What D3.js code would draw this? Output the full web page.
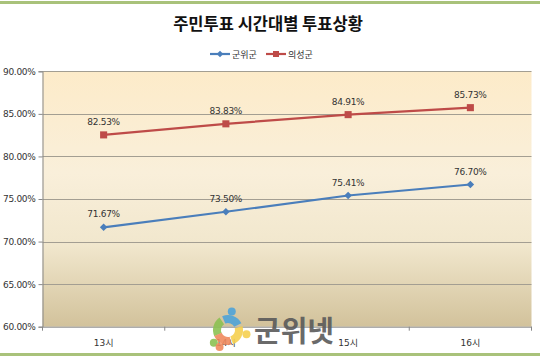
<!DOCTYPE html>
<html><head><meta charset="utf-8">
<script src="https://cdn.jsdelivr.net/npm/d3@7"></script>
<style>body{margin:0;background:#fff}svg{display:block}</style>
</head><body>
<script>
const categories = ["13시","14시","15시","16시"];
const seriesNames = ["군위군","의성군"];
const gunwi = [71.67, 73.50, 75.41, 76.70];
const uiseong = [82.53, 83.83, 84.91, 85.73];
const yTicks = [60,65,70,75,80,85,90];

const W=540,H=360;
const svg=d3.select("body").append("svg").attr("width",W).attr("height",H);
const m={l:42.5,r:531.5,t:71.3,b:326.7};
const defs=svg.append("defs");
const g=defs.append("linearGradient").attr("id","bg").attr("x1",0).attr("y1",0).attr("x2",0).attr("y2",1);
[[0,"#fdebc9"],[0.4,"#f9efda"],[0.68,"#f1e7cd"],[1,"#d2c29b"]].forEach(s=>g.append("stop").attr("offset",s[0]).attr("stop-color",s[1]));

// page lines
svg.append("rect").attr("x",0).attr("y",1).attr("width",W).attr("height",3).attr("fill","#a9c27a");
svg.append("rect").attr("x",0).attr("y",353).attr("width",W).attr("height",3).attr("fill","#a9c27a");

const x=d3.scaleBand().domain(categories).range([m.l,m.r]);
const y=d3.scaleLinear().domain([60,90]).range([m.b,m.t]);

svg.append("rect").attr("x",m.l).attr("y",m.t).attr("width",m.r-m.l).attr("height",m.b-m.t).attr("fill","url(#bg)");

// gridlines
svg.append("g").selectAll("line").data(yTicks.slice(1)).join("line")
 .attr("x1",m.l).attr("x2",m.r).attr("y1",d=>Math.round(y(d))+0.5).attr("y2",d=>Math.round(y(d))+0.5)
 .attr("stroke","#a39e92").attr("stroke-width",1);

// y axis
const ya=svg.append("g").attr("transform",`translate(${m.l},0)`)
 .call(d3.axisLeft(y).tickValues(yTicks).tickSize(4).tickFormat(d=>d.toFixed(2)+"%"));
ya.select(".domain").attr("stroke","#888");
ya.selectAll(".tick line").attr("stroke","#888");
ya.selectAll("text").attr("font-family","DejaVu Sans, sans-serif").attr("font-size",9).attr("fill","#333").attr("x",-7).attr("letter-spacing","-0.3");

// x axis
const xa=svg.append("g").attr("transform",`translate(0,${m.b})`)
 .call(d3.axisBottom(x).tickSize(0).tickPadding(13));
xa.select(".domain").attr("stroke","#888");
xa.selectAll("text").attr("font-family","DejaVu Sans, Noto Sans CJK KR, sans-serif").attr("font-size",9).attr("fill","#333");
svg.append("g").selectAll("line").data(d3.range(categories.length+1)).join("line")
 .attr("x1",i=>m.l+i*x.step()).attr("x2",i=>m.l+i*x.step()).attr("y1",m.b).attr("y2",m.b+4).attr("stroke","#888");

const cx=d=>x(d)+x.bandwidth()/2;
const series=[{name:seriesNames[0],vals:gunwi,color:"#4a7ebb",diamond:true},
              {name:seriesNames[1],vals:uiseong,color:"#be4b48",diamond:false}];
const line=d3.line().x((d,i)=>cx(categories[i])).y(d=>y(d));
series.forEach(s=>{
  svg.append("path").attr("d",line(s.vals)).attr("fill","none").attr("stroke",s.color).attr("stroke-width",2.2);
  svg.append("g").selectAll("path").data(s.vals).join("path")
   .attr("transform",(d,i)=>`translate(${cx(categories[i])},${y(d)})`+(s.diamond?" rotate(45)":""))
   .attr("d",d3.symbol().type(d3.symbolSquare).size(s.diamond?28:50))
   .attr("fill",s.color);
  svg.append("g").selectAll("text").data(s.vals).join("text")
   .attr("x",(d,i)=>cx(categories[i])).attr("y",d=>y(d)-10)
   .attr("text-anchor","middle").attr("font-family","DejaVu Sans, sans-serif").attr("font-size",9)
   .attr("fill","#333").attr("letter-spacing","-0.3").text(d=>d.toFixed(2)+"%");
});

// title
svg.append("text").attr("x",268).attr("y",30).attr("text-anchor","middle")
 .attr("font-family","Noto Sans CJK KR, sans-serif").attr("font-weight","bold").attr("font-size",16.5).attr("fill","#111")
 .text("주민투표 시간대별 투표상황");

// legend
const lg=svg.append("g").attr("transform","translate(210,54)");
let lx=0;
series.forEach(s=>{
  lg.append("line").attr("x1",lx).attr("x2",lx+20).attr("y1",0).attr("y2",0).attr("stroke",s.color).attr("stroke-width",2.2);
  lg.append("path").attr("transform",`translate(${lx+10},0)`+(s.diamond?" rotate(45)":"")).attr("d",d3.symbol().type(d3.symbolSquare).size(s.diamond?22:36)).attr("fill",s.color);
  lg.append("text").attr("x",lx+22).attr("y",3.5).attr("font-family","Noto Sans CJK KR, sans-serif").attr("font-size",9).attr("fill","#333").text(s.name);
  lx+=56;
});

// watermark logo
const wm=svg.append("g").attr("transform","translate(228,330)");
const arc=d3.arc().innerRadius(7).outerRadius(15);
const pieces=[["#8cc152",-2.0,-0.6,-2.3],["#4fa3d8",-0.4,1.1,0.2],["#f5cf4f",1.3,2.8,1.8],["#f08a5d",2.9,4.3,3.6]];
pieces.forEach(p=>{
  wm.append("path").attr("d",arc({startAngle:p[1],endAngle:p[2]})).attr("fill",p[0]).attr("opacity",0.9);
  wm.append("circle").attr("cx",19*Math.sin(p[3])).attr("cy",-19*Math.cos(p[3])).attr("r",4).attr("fill",p[0]).attr("opacity",0.9);
});
svg.append("text").attr("x",254).attr("y",342).attr("font-family","Noto Sans CJK KR, sans-serif").attr("font-weight","bold")
 .attr("font-size",29).attr("fill","#5a5a5a").attr("opacity",0.9).text("군위넷");
</script>
</body></html>
